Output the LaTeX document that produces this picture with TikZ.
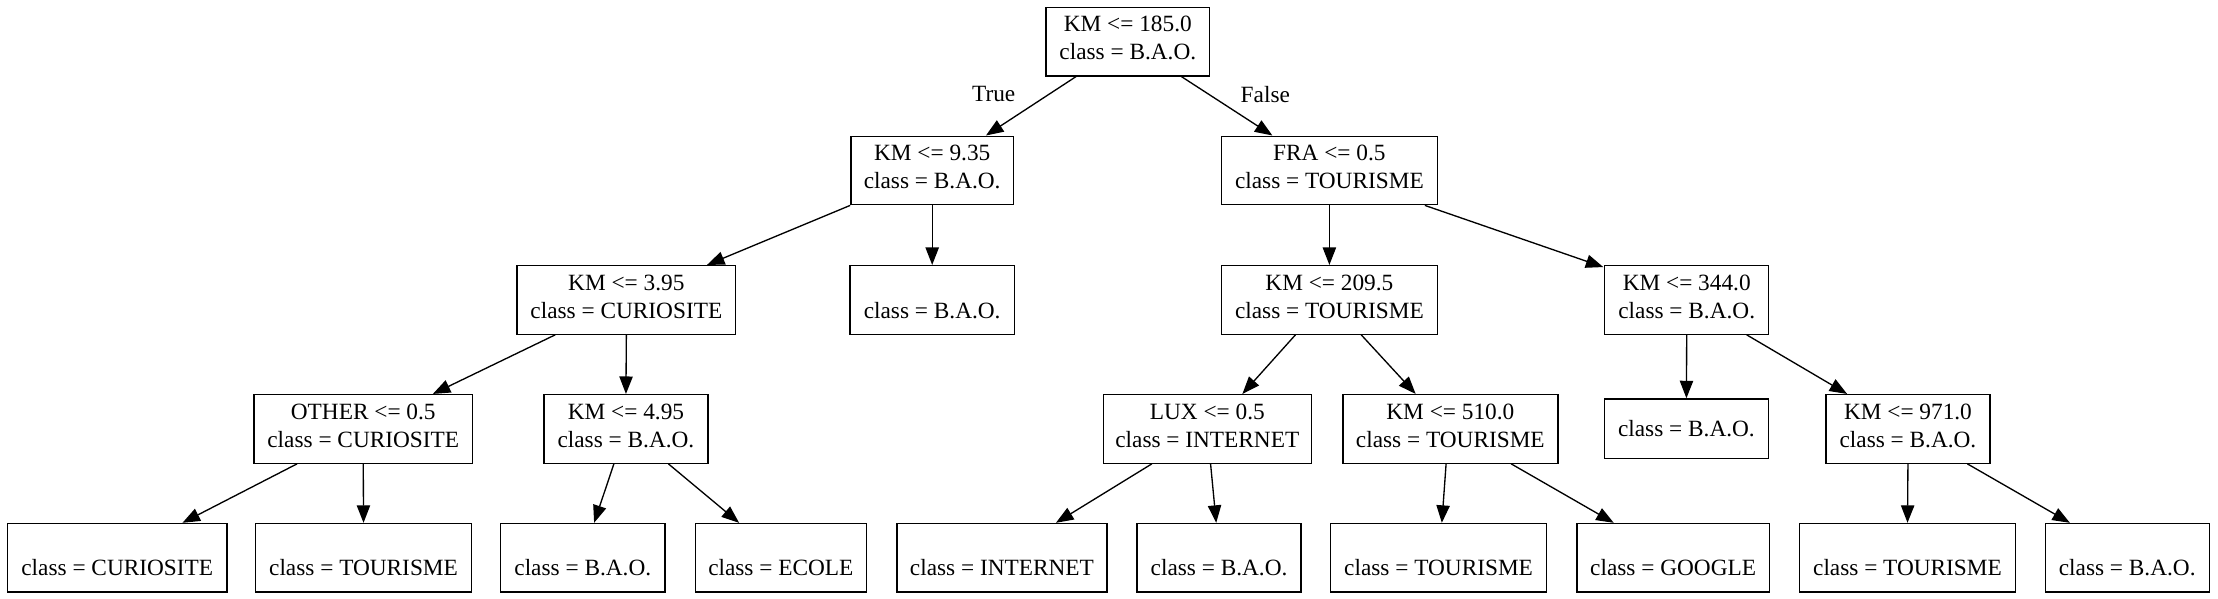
\documentclass[tikz,border=0pt]{standalone}
\usepackage{fontspec}
\setmainfont{Liberation Serif}
\usetikzlibrary{arrows.meta,calc}
\newcommand\mystrut{\rule[-0.35\baselineskip]{0pt}{\baselineskip}}
\begin{document}
\begin{tikzpicture}[x=0.85pt,y=-0.85pt,
  font=\fontsize{14}{16.8}\selectfont,
  box/.style={draw, line width=0.8pt, inner sep=0pt, align=center, minimum height=41.2pt, minimum width=#1},
  conn/.style={line width=0.8pt, -{Triangle[length=10.5pt,width=8pt]}},
  lbl/.style={inner sep=0pt}]
\useasboundingbox (0,0) rectangle (1568,423);
% row 0
\node[box=98.2pt] (root) at (797.3,29.5) {\mystrut KM <= 185.0\\\mystrut class = B.A.O.};
% row 1
\node[box=97.75pt] (A) at (659,120.5) {\mystrut KM <= 9.35\\\mystrut class = B.A.O.};
\node[box=129.6pt] (B) at (939.8,120.5) {\mystrut FRA <= 0.5\\\mystrut class = TOURISME};
% row 2
\node[box=131.3pt] (C) at (442.8,212) {\mystrut KM <= 3.95\\\mystrut class = CURIOSITE};
\node[box=98.6pt] (D) at (659,212) {\mystrut\\\mystrut class = B.A.O.};
\node[box=129.6pt] (E) at (939.8,212) {\mystrut KM <= 209.5\\\mystrut class = TOURISME};
\node[box=98.6pt] (F) at (1192.4,212) {\mystrut KM <= 344.0\\\mystrut class = B.A.O.};
% row 3
\node[box=131.3pt] (G) at (256.8,303.2) {\mystrut OTHER <= 0.5\\\mystrut class = CURIOSITE};
\node[box=98.6pt] (H) at (442.5,303.2) {\mystrut KM <= 4.95\\\mystrut class = B.A.O.};
\node[box=124.95pt] (I) at (853.5,303.2) {\mystrut LUX <= 0.5\\\mystrut class = INTERNET};
\node[box=129.2pt] (J) at (1025.3,303.2) {\mystrut KM <= 510.0\\\mystrut class = TOURISME};
\node[box=98.6pt, minimum height=35.7pt] (K) at (1192.2,303) {class = B.A.O.};
\node[box=98.6pt] (L) at (1348.8,303.2) {\mystrut KM <= 971.0\\\mystrut class = B.A.O.};
% row 4
\node[box=131.75pt] (T1) at (82.9,394.3) {\mystrut\\\mystrut class = CURIOSITE};
\node[box=130.05pt] (T2) at (257,394.3) {\mystrut\\\mystrut class = TOURISME};
\node[box=98.6pt] (T3) at (412,394.3) {\mystrut\\\mystrut class = B.A.O.};
\node[box=102.85pt] (T4) at (552,394.3) {\mystrut\\\mystrut class = ECOLE};
\node[box=126.2pt] (T5) at (708.3,394.3) {\mystrut\\\mystrut class = INTERNET};
\node[box=98.6pt] (T6) at (861.8,394.3) {\mystrut\\\mystrut class = B.A.O.};
\node[box=129.6pt] (T7) at (1017,394.3) {\mystrut\\\mystrut class = TOURISME};
\node[box=115.6pt] (T8) at (1182.8,394.3) {\mystrut\\\mystrut class = GOOGLE};
\node[box=129.6pt] (T9) at (1348.5,394.3) {\mystrut\\\mystrut class = TOURISME};
\node[box=98.6pt] (T10) at (1503.8,394.3) {\mystrut\\\mystrut class = B.A.O.};
% labels
\node[lbl] (tl) at (702.5,66.7) {True};
\node[lbl] (fl) at (894.5,66.7) {False};
% connectors
\draw[conn] ($(root.south)+(-36.7,0)$) -- ($(A.north)+(38,0)$);
\draw[conn] ($(root.south)+(38,0)$) -- ($(B.north)+(-40.3,0)$);
\draw[conn] (A.south west) -- ($(C.north)+(57,0)$);
\draw[conn] (A.south) -- (D.north);
\draw[conn] (B.south) -- (E.north);
\draw[conn] ($(B.south)+(67.5,0)$) -- ($(F.north west)+(-0.5,1.5)$);
\draw[conn] ($(C.south)+(-50.3,0)$) -- ($(G.north)+(49.2,0)$);
\draw[conn] (C.south) -- (H.north);
\draw[conn] ($(G.south)+(-46.8,0)$) -- ($(T1.north)+(46.1,0)$);
\draw[conn] (G.south) -- (T2.north);
\draw[conn] ($(H.south)+(-8.5,0)$) -- ($(T3.north)+(8,0)$);
\draw[conn] ($(H.south)+(30,0)$) -- ($(T4.north)+(-29.5,0)$);
\draw[conn] ($(E.south)+(-24,0)$) -- ($(I.north)+(24.8,0)$);
\draw[conn] ($(E.south)+(22.5,0)$) -- ($(J.north)+(-24.5,0)$);
\draw[conn] (F.south) -- (K.north);
\draw[conn] ($(F.south)+(42.4,0)$) -- ($(L.north)+(-43,0)$);
\draw[conn] ($(I.south)+(-39.2,0)$) -- ($(T5.north)+(38.2,0)$);
\draw[conn] ($(I.south)+(2.3,0)$) -- ($(T6.north)+(-2,0)$);
\draw[conn] ($(J.south)+(-3,0)$) -- ($(T7.north)+(2.3,0)$);
\draw[conn] ($(J.south)+(43,0)$) -- ($(T8.north)+(-42,0)$);
\draw[conn] (L.south) -- (T9.north);
\draw[conn] ($(L.south)+(42,0)$) -- ($(T10.north)+(-40.5,0)$);
\end{tikzpicture}
\end{document}
